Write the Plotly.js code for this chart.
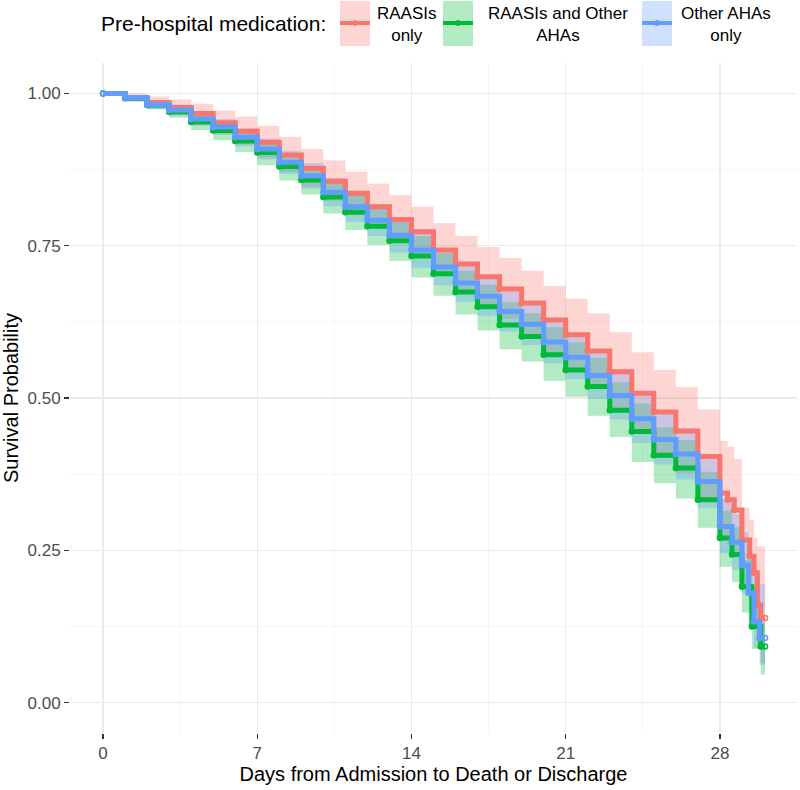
<!DOCTYPE html>
<html>
<head>
<meta charset="utf-8">
<script src="https://cdn.plot.ly/plotly-3.0.1.min.js"></script>
<style>html,body{margin:0;padding:0;background:#fff;}#chart{width:800px;height:790px;}</style>
</head>
<body>
<div id="chart"></div>
<script>
// ---- Data ----
const groupNames = ["RAASIs only", "RAASIs and Other AHAs", "Other AHAs only"];
const legendLabels = ["RAASIs<br>only", "RAASIs and Other<br>AHAs", "Other AHAs<br>only"];

const timeRed = [0,1,2,3,4,5,6,7,8,9,10,11,12,13,14,15,16,17,18,19,20,21,22,23,24,25,26,27,28,28.35,28.65,29,29.35,29.55,29.7,29.85,30.05];
const survRed = [1,0.993,0.985,0.977,0.967,0.952,0.938,0.920,0.899,0.877,0.856,0.836,0.814,0.793,0.773,0.743,0.720,0.699,0.679,0.656,0.628,0.604,0.577,0.543,0.508,0.477,0.446,0.404,0.344,0.333,0.316,0.267,0.240,0.213,0.160,0.139,0.139];
const upperRed = [1,1,0.995,0.990,0.983,0.972,0.962,0.947,0.929,0.909,0.890,0.872,0.852,0.833,0.814,0.787,0.766,0.748,0.730,0.709,0.684,0.663,0.639,0.608,0.575,0.546,0.518,0.481,0.430,0.420,0.400,0.320,0.300,0.270,0.256,0.256,0.256];
const lowerRed = [1,0.986,0.975,0.964,0.951,0.933,0.916,0.895,0.871,0.847,0.824,0.802,0.778,0.755,0.734,0.701,0.676,0.652,0.630,0.605,0.574,0.547,0.517,0.480,0.443,0.410,0.376,0.333,0.272,0.258,0.240,0.195,0.170,0.145,0.100,0.065,0.065];

const timeGreen = [0,1,2,3,4,5,6,7,8,9,10,11,12,13,14,15,16,17,18,19,20,21,22,23,24,25,26,27,28,28.55,29,29.45,29.85,30.05];
const survGreen = [1,0.992,0.981,0.970,0.953,0.939,0.922,0.903,0.880,0.858,0.830,0.805,0.782,0.758,0.733,0.704,0.674,0.650,0.620,0.601,0.571,0.546,0.519,0.480,0.445,0.406,0.385,0.333,0.270,0.243,0.190,0.125,0.092,0.092];
const upperGreen = [1,0.996,0.988,0.980,0.966,0.954,0.939,0.922,0.901,0.881,0.858,0.834,0.812,0.789,0.766,0.738,0.709,0.686,0.657,0.639,0.616,0.591,0.566,0.526,0.491,0.452,0.431,0.379,0.315,0.288,0.234,0.168,0.132,0.132];
const lowerGreen = [1,0.988,0.974,0.960,0.940,0.923,0.904,0.882,0.857,0.834,0.803,0.776,0.751,0.725,0.698,0.668,0.637,0.611,0.580,0.560,0.528,0.502,0.471,0.436,0.395,0.360,0.335,0.287,0.223,0.198,0.148,0.088,0.046,0.046];

const timeBlue = [0,1,2,3,4,5,6,7,8,9,10,11,12,13,14,15,16,17,18,19,20,21,22,23,24,25,26,27,28,28.55,29,29.3,29.55,29.8,30.05];
const survBlue = [1,0.993,0.982,0.973,0.958,0.945,0.928,0.909,0.887,0.865,0.838,0.814,0.792,0.767,0.743,0.715,0.689,0.667,0.642,0.621,0.592,0.567,0.537,0.504,0.466,0.432,0.408,0.363,0.289,0.263,0.226,0.180,0.133,0.106,0.106];
const upperBlue = [1,0.997,0.989,0.982,0.969,0.958,0.943,0.926,0.906,0.886,0.861,0.839,0.818,0.795,0.772,0.745,0.720,0.699,0.675,0.655,0.627,0.603,0.575,0.543,0.506,0.473,0.450,0.406,0.334,0.310,0.280,0.240,0.210,0.195,0.195];
const lowerBlue = [1,0.989,0.975,0.964,0.947,0.932,0.913,0.892,0.868,0.844,0.815,0.789,0.766,0.739,0.714,0.685,0.658,0.635,0.609,0.587,0.557,0.531,0.499,0.465,0.426,0.391,0.366,0.320,0.245,0.218,0.180,0.135,0.090,0.062,0.062];

const xTicks = [0,7,14,21,28];
const yTicks = [0,0.25,0.5,0.75,1];
const yTickText = ["0.00","0.25","0.50","0.75","1.00"];

// ---- Styles ----
const colors = ["#F8766D", "#00BA38", "#619CFF"];
const fills = ["rgba(248,118,109,0.3)", "rgba(0,186,56,0.3)", "rgba(97,156,255,0.3)"];
const series = [
  {t: timeRed, s: survRed, u: upperRed, l: lowerRed},
  {t: timeGreen, s: survGreen, u: upperGreen, l: lowerGreen},
  {t: timeBlue, s: survBlue, u: upperBlue, l: lowerBlue}
];

const traces = [];
series.forEach((g, i) => {
  traces.push({x: g.t, y: g.u, type: "scatter", mode: "lines", line: {width: 0, shape: "hv"}, showlegend: false, hoverinfo: "skip"});
  traces.push({x: g.t, y: g.l, type: "scatter", mode: "lines", line: {width: 0, shape: "hv"}, fill: "tonexty", fillcolor: fills[i], showlegend: false, hoverinfo: "skip"});
});
series.forEach((g, i) => {
  traces.push({x: g.t, y: g.s, type: "scatter", mode: "lines+markers", name: groupNames[i],
    line: {color: colors[i], width: 5, shape: "hv"},
    marker: {symbol: "circle-open", size: 5, color: colors[i], line: {width: 1.5, color: colors[i]}},
    showlegend: false});
});

// ---- Layout ----
const W = 800, H = 790, ML = 70, MR = 3, MT = 63, MB = 57;
const px = v => (v - ML) / (W - ML - MR);
const py = v => (H - MB - v) / (H - MT - MB);

const shapes = [];
const annotations = [];
annotations.push({xref: "paper", yref: "paper", x: px(328), y: py(24), xanchor: "right", yanchor: "middle",
  text: "Pre-hospital medication:", showarrow: false, font: {size: 21, color: "#000"}});
const keyLeft = [340, 443, 642];
const labelCenter = [407, 558, 726];
colors.forEach((c, i) => {
  shapes.push({type: "rect", xref: "paper", yref: "paper", x0: px(keyLeft[i]), x1: px(keyLeft[i] + 30), y0: py(1), y1: py(46),
    fillcolor: fills[i], line: {width: 0}, layer: "above"});
  shapes.push({type: "line", xref: "paper", yref: "paper", x0: px(keyLeft[i]), x1: px(keyLeft[i] + 30), y0: py(23), y1: py(23),
    line: {color: c, width: 4}, layer: "above"});
  shapes.push({type: "circle", xref: "paper", yref: "paper", x0: px(keyLeft[i] + 12.5), x1: px(keyLeft[i] + 17.5), y0: py(20.5), y1: py(25.5),
    fillcolor: c, line: {color: c, width: 1}, layer: "above"});
  annotations.push({xref: "paper", yref: "paper", x: px(labelCenter[i]), y: py(25), xanchor: "center", yanchor: "middle", align: "center",
    text: legendLabels[i], showarrow: false, font: {size: 17, color: "#000"}});
});

const layout = {
  width: W, height: H,
  margin: {l: ML, r: MR, t: MT, b: MB, pad: 0},
  paper_bgcolor: "#fff", plot_bgcolor: "#fff",
  font: {family: "Liberation Sans, Arial, sans-serif", color: "#000"},
  showlegend: false,
  xaxis: {
    range: [-1.5, 31.5], tickvals: xTicks, ticktext: xTicks.map(String),
    showgrid: true, gridcolor: "#EBEBEB", gridwidth: 1.5, zeroline: false, showline: false,
    ticks: "outside", ticklen: 5, tickwidth: 1.3, tickcolor: "#333333",
    tickfont: {size: 17, color: "#4D4D4D"},
    minor: {dtick: 3.5, tick0: 0, showgrid: true, gridcolor: "#F2F2F2", gridwidth: 0.8, ticks: ""},
    title: {text: "Days from Admission to Death or Discharge", font: {size: 20, color: "#000"}, standoff: 4},
    automargin: false, fixedrange: true
  },
  yaxis: {
    range: [-0.05, 1.05], tickvals: yTicks, ticktext: yTickText,
    showgrid: true, gridcolor: "#EBEBEB", gridwidth: 1.5, zeroline: false, showline: false,
    ticks: "outside", ticklen: 5, tickwidth: 1.3, tickcolor: "#333333",
    tickfont: {size: 17, color: "#4D4D4D"},
    minor: {dtick: 0.125, tick0: 0, showgrid: true, gridcolor: "#F2F2F2", gridwidth: 0.8, ticks: ""},
    title: {text: "Survival Probability", font: {size: 20, color: "#000"}, standoff: 8},
    automargin: false, fixedrange: true
  },
  shapes: shapes,
  annotations: annotations
};

Plotly.newPlot("chart", traces, layout, {staticPlot: true, displayModeBar: false});
</script>
</body>
</html>
